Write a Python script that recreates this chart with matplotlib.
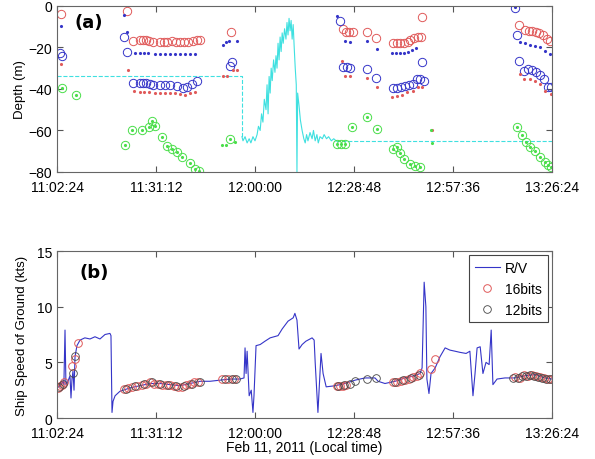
import numpy as np
import matplotlib
matplotlib.use('Agg')
import matplotlib.pyplot as plt

plt.rcParams['font.family'] = ['Liberation Sans', 'DejaVu Sans']

# x values are minutes after 11:02:24
tick_pos = [0, 28.8, 57.6, 86.4, 115.2, 144]
tick_labels = ['11:02:24', '11:31:12', '12:00:00', '12:28:48', '12:57:36', '13:26:24']

# ---- panel (a): depth ----
red_circ_t = [1.2, 20.36, 22.11, 24.15, 25.02, 25.89, 26.76, 27.93, 29.96, 31.13, 32.0, 33.45, 34.62,
              35.78, 36.95, 38.11, 39.56, 40.73, 41.6, 50.62, 83.2, 84.07, 84.95, 86.11, 90.18, 92.8,
              106.18, 97.74, 98.91, 99.78, 100.95, 102.11, 102.69, 103.85, 105.02, 105.89,
              134.4, 136.15, 137.31, 138.18, 139.35, 140.22, 141.38, 142.55, 143.42]
red_circ_d = [-3.9, -2.4, -16.8, -16.5, -16.5, -16.5, -17, -17.5, -17.5, -17.5, -17.5, -17, -17.5,
              -17.5, -17.3, -17.2, -17, -16.5, -16.2, -12.5, -11, -12.5, -12.5, -12.5, -12.5, -15.4,
              -5.3, -17.8, -17.8, -17.8, -17.8, -17.3, -16.4, -15.4, -15, -15,
              -9, -11.6, -12, -12, -12.5, -13, -14, -15.9, -16.9]

blue_circ_t = [1.45, 0.87, 19.49, 20.36, 22.11, 24.15, 25.02, 25.89, 27.05, 27.93, 29.96, 31.42, 32.87,
               34.91, 36.65, 37.82, 39.27, 40.73, 50.91, 50.33, 82.33, 83.2, 84.36, 85.24, 90.18, 92.8,
               106.18, 97.74, 98.91, 100.07, 101.24, 102.4, 103.56, 104.73, 105.6, 106.76,
               133.24, 133.82, 134.4, 135.85, 137.02, 138.18, 139.35, 140.51, 141.67, 142.84, 143.71]
blue_circ_d = [-24, -22.5, -15, -22, -37, -37, -37, -37, -37.5, -38, -38, -38, -38,
               -38.5, -39.5, -39, -37.5, -36, -27, -29, -7.2, -29.4, -29.4, -29.9, -30.4, -34.7,
               -27, -39.5, -39.5, -39, -38.6, -38, -37.6, -35.2, -35.2, -36.2,
               -1, -14, -26.5, -31.3, -30.4, -30.8, -31.8, -33.3, -35.2, -39, -39]

blue_dot_t = [1.2, 19.5, 20.4, 22.7, 24.2, 25.3, 26.5, 28.5, 30.0, 31.4, 32.9, 34.3, 35.8, 37.2, 38.7, 40.2,
              48.29, 49.16, 50.04, 52.36, 81.45, 83.78, 85.24, 90.18, 93.09, 97.45, 98.62, 99.78,
              100.95, 102.11, 103.27, 104.44, 133.24, 134.69, 136.15, 137.6, 139.05, 140.51, 141.96, 143.42]
blue_dot_d = [-9.6, -4.3, -12.5, -22.5, -22.5, -22.5, -22.5, -23, -23, -23, -23, -23, -23, -23, -23, -23,
              -18.8, -17.3, -17, -17, -4.8, -17, -17.3, -16.9, -20.7, -22.7, -22.7, -22.7,
              -22.7, -22.2, -21.2, -20.2, -0.5, -17.3, -17.8, -18.8, -19.3, -19.8, -21.7, -23]

red_dot_t = [1.2, 20.65, 22.4, 24.0, 25.3, 26.7, 28.5, 30.0, 31.4, 32.9, 34.3, 35.8, 37.2, 38.7, 40.2,
             51.2, 52.36, 48.29, 49.45, 82.91, 83.78, 85.24, 90.18, 93.09, 97.45, 98.91, 100.36,
             101.82, 103.56, 105.02, 106.18, 109.1, 134.69, 135.85, 137.6, 139.05, 140.51, 141.96, 143.71]
red_dot_d = [-28, -31, -41, -41.5, -41.5, -41.5, -42, -42, -42, -42, -42, -42.5, -43, -42, -41.5,
             -31, -31, -33.7, -33.7, -26.5, -33.7, -33.7, -34.7, -39, -43.9, -43.5, -42.9,
             -41.4, -41, -39, -39, -60, -32.8, -35.2, -35.2, -36, -37.6, -41, -42.4]

green_circ_t = [1.45, 5.53, 19.78, 21.82, 24.73, 26.76, 27.64, 28.51, 30.55, 31.98, 33.45, 34.91, 36.36,
                38.69, 40.15, 41.31, 50.33, 81.45, 82.62, 83.78, 85.82, 90.18, 93.09, 97.74, 98.91,
                99.78, 100.95, 102.69, 104.15, 105.6, 133.82, 135.27, 136.44, 137.6, 139.05, 140.51,
                141.96, 142.84, 143.71]
green_circ_d = [-39.5, -43, -67, -60, -60, -58.5, -55.5, -58, -63, -67.5, -69, -70.5, -72.8,
                -75.7, -78.5, -79.5, -64, -66.5, -66.5, -66.5, -58.3, -53.5, -59.3, -69, -68,
                -71, -73.7, -76, -77, -77.6, -58.3, -62, -65.5, -68, -70, -72.8,
                -75.2, -76.6, -77.6]
green_dot_t = [48.0, 49.16, 51.78, 108.8, 109.1]
green_dot_d = [-67, -67, -65.5, -60, -66]

# towed body depth: dashed (no data) and measured parts
cyan_dash1_t = [0, 53.8, 53.8]
cyan_dash1_d = [-34, -34, -63]
cyan_t = [53.8, 54.1, 54.7, 55.3, 55.9, 56.4, 57.0, 57.6, 58.2, 58.6, 59.1, 59.5, 59.9, 60.3, 60.8,
          61.1, 61.4, 61.7, 62.0, 62.3, 62.6, 63.0, 63.4, 63.7, 64.0, 64.3, 64.6, 64.9, 65.2, 65.5,
          65.8, 66.2, 66.6, 66.9, 67.2, 67.5, 67.8, 68.1, 68.4, 68.7, 69.0, 69.3, 69.6, 69.8, 70.0,
          70.4, 70.8, 71.3, 71.8, 72.2, 72.6, 73.0, 73.6, 74.2, 74.6, 75.1, 75.6, 76.0, 76.5, 77.2,
          77.7, 78.4, 79.0, 79.8, 80.5, 81.2]
cyan_d = [-63, -65, -63, -66, -64, -66, -63, -65, -62, -58, -60, -52, -56, -45, -50,
          -38, -52, -34, -42, -30, -36, -26, -32, -24, -30, -18, -26, -15, -22, -13,
          -18, -11, -16, -8, -14, -6, -12, -7, -16, -9, -20, -30, -38, -80, -42,
          -48, -55, -60, -64, -66, -62, -65, -61, -64, -60, -65, -62, -66, -63, -64,
          -62, -64, -63, -65, -64, -65]
cyan_dash2_t = [81.2, 144]
cyan_dash2_d = [-65, -65]

# ---- panel (b): ship speed ----
rv_t = [0, 0.87, 1.75, 2.0, 2.33, 2.6, 3.2, 3.78, 4.07, 4.36, 4.65, 4.95, 5.24, 5.8, 6.7, 8.1, 9.6,
        11.05, 12.5, 13.96, 15.4, 15.7, 16.0, 16.3, 16.9, 18.3, 21.2, 24.1, 27.1, 30.0, 32.9, 35.8,
        38.7, 41.6, 44.5, 47.4, 50.3, 53.2, 54.4, 54.7, 55.0, 55.3, 55.9, 56.5, 57.0, 57.3, 57.9,
        59.1, 60.5, 62.0, 64.3, 65.5, 67.2, 68.7, 69.2, 69.8, 70.4, 71.3, 72.4, 74.2, 74.8, 75.1,
        75.9, 76.8, 77.4, 78.3, 80.9, 83.8, 86.7, 89.6, 92.5, 93.4, 95.4, 98.3, 101.2, 104.1, 105.6,
        106.2, 106.8, 107.3, 107.6, 108.2, 108.8, 110.0, 111.4, 112.9, 114.3, 115.8, 117.2, 119.0,
        120.1, 121.0, 121.6, 122.2, 123.1, 123.9, 124.8, 125.7, 126.3, 126.8, 128.0, 130.3, 133.2,
        136.1, 139.1, 142.0, 144.0]
rv_s = [2.7, 2.9, 3.3, 3.0, 7.9, 3.0, 3.3, 3.8, 1.8, 3.5, 4.2, 2.5, 5.5, 6.5, 7.0, 7.2, 7.1,
        7.3, 7.1, 7.5, 7.6, 7.4, 0.5, 1.5, 2.0, 2.4, 2.7, 2.9, 3.1, 3.1, 3.0, 2.9,
        3.1, 3.3, 3.3, 3.4, 3.5, 3.5, 3.6, 6.3, 4.0, 6.0, 2.0, 2.5, 0.5, 2.0, 6.5,
        6.6, 6.9, 7.2, 7.4, 8.0, 8.7, 9.0, 9.4, 8.8, 6.2, 6.6, 6.9, 7.2, 7.0, 5.0,
        0.5, 5.8, 4.0, 2.8, 2.9, 3.1, 3.4, 3.6, 3.6, 3.3, 3.1, 3.3, 3.6, 3.8, 4.0,
        4.5, 12.2, 10.0, 3.5, 2.2, 4.0, 4.5, 5.5, 6.3, 6.1, 6.0, 5.9, 5.8,
        6.0, 2.0, 4.0, 6.3, 6.4, 4.0, 5.0, 4.8, 7.9, 3.0, 3.5, 3.6, 3.6,
        3.8, 3.9, 3.6, 3.5]

b16_t = [0.3, 0.9, 1.5, 2.1, 4.5, 5.3, 6.1, 19.5, 20.6, 21.8, 23.3, 24.7, 25.9, 27.1, 28.2, 29.4,
         30.6, 31.7, 32.9, 34.0, 35.2, 36.4, 37.5, 38.7, 39.9, 41.0, 48.0, 49.7, 51.5, 81.5, 82.3,
         83.2, 84.1, 97.7, 98.9, 100.1, 101.2, 102.4, 103.6, 104.7, 105.6, 108.8, 110.0, 133.2,
         134.7, 135.9, 137.0, 138.2, 139.4, 140.5, 141.7, 142.8, 144.0]
b16_s = [2.7, 2.9, 3.0, 3.2, 4.7, 5.3, 6.7, 2.6, 2.7, 2.8, 2.9, 3.0, 3.1, 3.2, 3.1, 3.1,
         3.0, 3.0, 3.0, 2.9, 2.8, 2.8, 3.0, 3.1, 3.2, 3.2, 3.5, 3.5, 3.5, 2.9, 2.9,
         2.9, 3.0, 3.2, 3.2, 3.3, 3.4, 3.5, 3.7, 3.8, 4.0, 4.4, 5.3, 3.7,
         3.6, 3.9, 3.8, 3.9, 3.8, 3.7, 3.6, 3.5, 3.5]
b12_t = [0.6, 1.8, 4.7, 5.2, 20.1, 22.7, 25.3, 27.6, 30.0, 32.3, 34.6, 37.0, 39.3, 41.6, 48.9,
         50.9, 52.1, 81.8, 83.5, 85.2, 86.7, 90.2, 92.8, 98.3, 100.6, 103.0, 105.3, 132.7, 134.1,
         135.3, 136.4, 137.6, 138.8, 139.9, 141.1, 142.3, 143.4]
b12_s = [2.8, 3.1, 4.0, 5.6, 2.6, 2.9, 3.1, 3.2, 3.1, 3.0, 2.9, 2.9, 3.1, 3.2, 3.5,
         3.5, 3.5, 2.9, 3.0, 3.1, 3.3, 3.5, 3.6, 3.2, 3.4, 3.6, 3.9, 3.6, 3.6,
         3.8, 3.8, 3.9, 3.8, 3.7, 3.6, 3.5, 3.5]

red = '#e05a5a'
blue = '#3535c8'
green = '#4ade4a'
cyan = '#3fe0e0'

fig = plt.figure(figsize=(5.95, 4.6), dpi=100)
ax1 = fig.add_axes([0.0958, 0.624, 0.832, 0.361])
ax2 = fig.add_axes([0.0958, 0.0891, 0.832, 0.363])

for ax in (ax1, ax2):
    ax.set_xlim(0, 144)
    ax.set_xticks(tick_pos)
    ax.set_xticklabels(tick_labels)
    ax.tick_params(direction='in', top=True, right=True, labelsize=10, length=4, color='#555555')
    ax.tick_params(axis='x', pad=6)
    for sp in ax.spines.values():
        sp.set_color('#666666')
        sp.set_linewidth(0.8)

# panel (a)
ax1.plot(cyan_dash1_t, cyan_dash1_d, '--', color=cyan, lw=0.8)
ax1.plot(cyan_dash2_t, cyan_dash2_d, '--', color=cyan, lw=0.8)
ax1.plot(cyan_t, cyan_d, '-', color=cyan, lw=0.8)
ax1.plot(red_circ_t, red_circ_d, 'o', mfc='none', mec=red, ms=6, mew=0.7)
ax1.plot(blue_circ_t, blue_circ_d, 'o', mfc='none', mec=blue, ms=6, mew=0.7)
ax1.plot(red_dot_t, red_dot_d, '.', color=red, ms=2.5)
ax1.plot(blue_dot_t, blue_dot_d, '.', color=blue, ms=2.5)
ax1.plot(green_circ_t, green_circ_d, 'o', mfc='none', mec=green, ms=6, mew=0.7)
ax1.plot(green_circ_t, green_circ_d, '.', color=green, ms=2.5)
ax1.plot(green_dot_t, green_dot_d, '.', color=green, ms=2.5)
ax1.set_ylim(-80, 0)
ax1.set_yticks([-80, -60, -40, -20, 0])
ax1.set_ylabel('Depth (m)', fontsize=9.5, labelpad=2)
ax1.text(0.036, 0.96, '(a)', transform=ax1.transAxes, fontsize=13, fontweight='bold',
         va='top', family=['DejaVu Sans Condensed', 'DejaVu Sans'])

# panel (b)
ax2.plot(rv_t, rv_s, '-', color=blue, lw=0.8, label='R/V')
ax2.plot(b16_t, b16_s, 'o', mfc='none', mec=red, ms=5.5, mew=0.7, label='16bits')
ax2.plot(b12_t, b12_s, 'o', mfc='none', mec='#444444', ms=5.5, mew=0.6, label='12bits')
ax2.set_ylim(0, 15)
ax2.set_yticks([0, 5, 10, 15])
ax2.set_ylabel('Ship Speed of Ground (kts)', fontsize=9.5, labelpad=6)
ax2.set_xlabel('Feb 11, 2011 (Local time)', fontsize=10, labelpad=0)
ax2.text(0.045, 0.93, '(b)', transform=ax2.transAxes, fontsize=13, fontweight='bold',
         va='top', family=['DejaVu Sans Condensed', 'DejaVu Sans'])
leg = ax2.legend(loc='upper right', fontsize=10, frameon=True, fancybox=False, framealpha=1,
                 borderaxespad=0.3, handlelength=1.8, handletextpad=0.4, borderpad=0.4)
leg.get_frame().set_edgecolor('#444444')
leg.get_frame().set_linewidth(0.8)

fig.savefig('out.png', dpi=100)
